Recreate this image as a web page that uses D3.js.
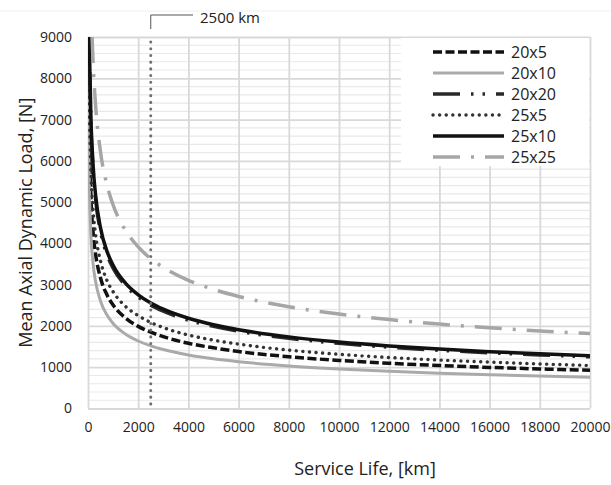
<!DOCTYPE html>
<html>
<head>
<meta charset="utf-8">
<script src="https://cdn.jsdelivr.net/npm/d3@7"></script>
<style>
    body { margin: 0; background: #fff; }
    text { font-family: "Open Sans", "Liberation Sans", sans-serif; fill: #222; }
</style>
</head>
<body>
<div id="chart"></div>
<script>
// service life, km
const lifeKm = [10, 20, 50, 100, 200, 300, 500, 750, 1000, 1500, 2000, 2500, 3000, 4000, 5000, 6000, 8000, 10000, 12000, 14000, 16000, 18000, 20000];

// mean axial dynamic load, N
const load20x5 = [11650, 9250, 6810, 5410, 4290, 3750, 3160, 2760, 2510, 2190, 1990, 1850, 1740, 1580, 1470, 1380, 1255, 1165, 1096, 1041, 996, 958, 925];
const load20x10 = [9560, 7590, 5590, 4440, 3520, 3080, 2600, 2270, 2060, 1800, 1635, 1518, 1428, 1298, 1205, 1134, 1030, 956, 900, 855, 818, 786, 759];
const load20x20 = [15780, 12530, 9230, 7320, 5810, 5080, 4280, 3740, 3400, 2970, 2700, 2505, 2360, 2140, 1990, 1870, 1700, 1578, 1485, 1411, 1349, 1297, 1253];
const load25x5 = [13140, 10430, 7680, 6100, 4840, 4230, 3570, 3110, 2830, 2470, 2250, 2085, 1960, 1780, 1655, 1560, 1415, 1314, 1236, 1174, 1123, 1080, 1043];
const load25x10 = [16110, 12790, 9420, 7480, 5930, 5180, 4370, 3820, 3470, 3030, 2755, 2557, 2406, 2186, 2029, 1910, 1735, 1611, 1516, 1440, 1377, 1324, 1278];
const load25x25 = [22880, 18170, 13380, 10620, 8430, 7365, 6210, 5430, 4930, 4310, 3915, 3630, 3420, 3105, 2885, 2715, 2465, 2290, 2155, 2045, 1955, 1880, 1815];

const seriesNames = ["20x5", "20x10", "20x20", "25x5", "25x10", "25x25"];
const xTicks = [0, 2000, 4000, 6000, 8000, 10000, 12000, 14000, 16000, 18000, 20000];
const yTicks = [0, 1000, 2000, 3000, 4000, 5000, 6000, 7000, 8000, 9000];
const markerKm = 2500;

(function () {
    const width = 611, height = 485;
    const plot = { left: 88, right: 590, top: 37, bottom: 408.5 };

    const styles = {
        "20x5":  { color: "#111", width: 3.5, dash: "9,3.5", cap: "butt" },
        "20x10": { color: "#aaa", width: 3, dash: null, cap: "butt" },
        "20x20": { color: "#2a2a2a", width: 3.5, dash: "27,11,2.5,9,2.5,11", cap: "butt" },
        "25x5":  { color: "#333", width: 3.4, dash: "0.1,6.5", cap: "round" },
        "25x10": { color: "#111", width: 3.5, dash: null, cap: "butt" },
        "25x25": { color: "#a6a6a6", width: 3.5, dash: "27,11,3,11", cap: "butt" },
    };
    const values = {
        "20x5": load20x5, "20x10": load20x10, "20x20": load20x20,
        "25x5": load25x5, "25x10": load25x10, "25x25": load25x25,
    };

    const x = d3.scaleLinear().domain([0, 20000]).range([plot.left, plot.right]);
    const y = d3.scaleLinear().domain([0, 9000]).range([plot.bottom, plot.top]);

    const svg = d3.select("#chart").append("svg")
        .attr("width", width)
        .attr("height", height);

    svg.append("defs").append("clipPath")
        .attr("id", "plot-clip")
        .append("rect")
        .attr("x", plot.left).attr("y", plot.top)
        .attr("width", plot.right - plot.left)
        .attr("height", plot.bottom - plot.top);

    // faint chart border line at top
    svg.append("line")
        .attr("x1", 0).attr("x2", width)
        .attr("y1", 11).attr("y2", 11)
        .attr("stroke", "#f0f0f0");

    // minor horizontal grid every 200
    const minorY = d3.range(200, 9000, 200).filter(v => v % 1000 !== 0);
    svg.append("g")
        .selectAll("line")
        .data(minorY)
        .join("line")
        .attr("x1", plot.left).attr("x2", plot.right)
        .attr("y1", d => y(d)).attr("y2", d => y(d))
        .attr("stroke", "#e9e9e9")
        .attr("stroke-width", 1.2);

    // major grid
    svg.append("g").attr("transform", "translate(0," + plot.bottom + ")")
        .call(d3.axisBottom(x).tickValues(xTicks).tickSize(-(plot.bottom - plot.top)).tickFormat(""))
        .call(g => g.select(".domain").remove())
        .call(g => g.selectAll("line").attr("stroke", "#d9d9d9").attr("stroke-width", 1.8));
    svg.append("g").attr("transform", "translate(" + plot.left + ",0)")
        .call(d3.axisLeft(y).tickValues(yTicks).tickSize(-(plot.right - plot.left)).tickFormat(""))
        .call(g => g.select(".domain").remove())
        .call(g => g.selectAll("line").attr("stroke", "#d9d9d9").attr("stroke-width", 1.8));

    // tick labels
    svg.append("g").attr("transform", "translate(" + plot.left + ",0)")
        .call(d3.axisLeft(y).tickValues(yTicks).tickSize(0).tickPadding(16).tickFormat(d3.format("d")))
        .call(g => g.select(".domain").remove())
        .call(g => g.selectAll("text").attr("font-size", 14).attr("fill", "#222"));
    svg.append("g").attr("transform", "translate(0," + plot.bottom + ")")
        .call(d3.axisBottom(x).tickValues(xTicks).tickSize(0).tickPadding(14).tickFormat(d3.format("d")))
        .call(g => g.select(".domain").remove())
        .call(g => g.selectAll("text").attr("font-size", 14).attr("fill", "#222"));

    // curves
    const line = d3.line()
        .x((d, i) => x(lifeKm[i]))
        .y(d => y(d))
        .curve(d3.curveMonotoneX);

    const curves = svg.append("g").attr("clip-path", "url(#plot-clip)");
    seriesNames.forEach(name => {
        const s = styles[name];
        curves.append("path")
            .datum(values[name])
            .attr("d", line)
            .attr("fill", "none")
            .attr("stroke", s.color)
            .attr("stroke-width", s.width)
            .attr("stroke-dasharray", s.dash)
            .attr("stroke-linecap", s.cap);
    });

    // 2500 km marker
    svg.append("line")
        .attr("x1", x(markerKm)).attr("x2", x(markerKm))
        .attr("y1", y(9000) + 5).attr("y2", plot.bottom)
        .attr("stroke", "#6f6f6f")
        .attr("stroke-width", 3)
        .attr("stroke-linecap", "round")
        .attr("stroke-dasharray", "0.1,6.6");
    svg.append("path")
        .attr("d", "M" + x(markerKm) + ",29 V15 H193")
        .attr("fill", "none")
        .attr("stroke", "#555")
        .attr("stroke-width", 1);
    svg.append("text")
        .attr("x", 200).attr("y", 17)
        .attr("dominant-baseline", "central")
        .attr("font-size", 15)
        .text(markerKm + " km");

    // legend
    const legend = svg.append("g");
    legend.append("rect")
        .attr("x", 401).attr("y", 38)
        .attr("width", 188).attr("height", 128)
        .attr("fill", "#fff");
    seriesNames.forEach((name, i) => {
        const s = styles[name];
        const ly = 52 + i * 21;
        legend.append("line")
            .attr("x1", 433).attr("x2", 504)
            .attr("y1", ly).attr("y2", ly)
            .attr("stroke", s.color)
            .attr("stroke-width", s.width)
            .attr("stroke-dasharray", s.dash)
            .attr("stroke-linecap", s.cap);
        legend.append("text")
            .attr("x", 511).attr("y", ly)
            .attr("dominant-baseline", "central")
            .attr("font-size", 16)
            .text(name);
    });

    // axis titles
    svg.append("text")
        .attr("transform", "translate(25," + ((plot.top + plot.bottom) / 2) + ") rotate(-90)")
        .attr("text-anchor", "middle")
        .attr("dominant-baseline", "central")
        .attr("font-size", 18)
        .text("Mean Axial Dynamic Load, [N]");
    svg.append("text")
        .attr("x", 365).attr("y", 468)
        .attr("text-anchor", "middle")
        .attr("dominant-baseline", "central")
        .attr("font-size", 18)
        .text("Service Life, [km]");
})();
</script>
</body>
</html>
